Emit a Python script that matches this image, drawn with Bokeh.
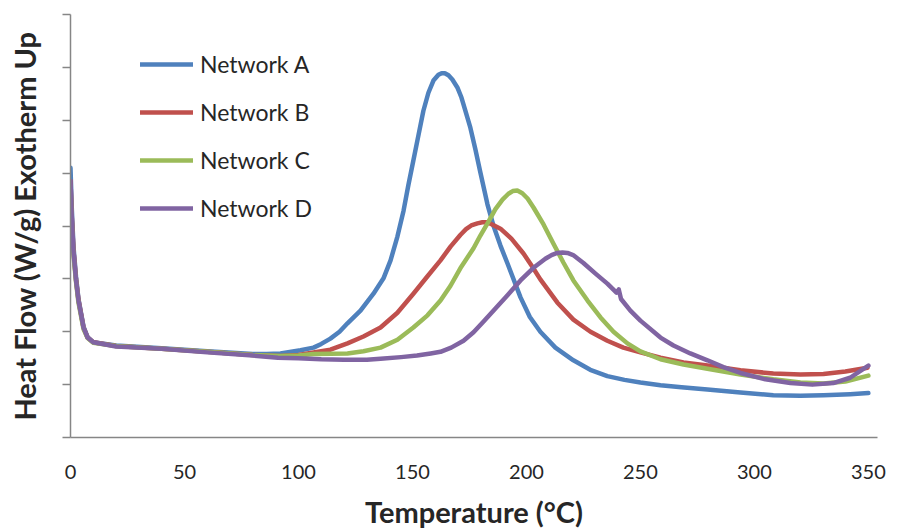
from bokeh.plotting import figure
from bokeh.models import Range1d, FixedTicker, Legend, LegendItem
from bokeh.embed import file_html
from bokeh.resources import INLINE

# ---- data ----
series_names = ["Network A", "Network B", "Network C", "Network D"]
series_colors = ["#4F81BD", "#C0504D", "#9BBB59", "#8064A2"]

a_x = [0, 0.6, 1.3, 2.4, 3.5, 5.7, 7.5, 10, 20, 40, 60, 80, 86, 92.1, 100.9, 106.6, 110, 114, 118, 121.5, 127.2,
       132.9, 137.3, 140.4, 143.4, 146.1, 148.2, 150.4, 152.6, 154.8, 157, 159.2, 161.4, 162.8, 164.2,
       165.8, 167.5, 169.7, 171.5, 173.2, 175.4, 177.6, 179.8, 182.9, 185.5, 188.6, 191.7, 197.4, 201.5,
       206.1, 212.7, 220.6, 228, 235.5, 243, 250, 258.8, 268, 279.4, 293.9, 308.3, 320.2, 330.3, 342, 350]
a_y = [5.10, 4.30, 3.62, 3.05, 2.62, 2.10, 1.90, 1.80, 1.74, 1.69, 1.63, 1.58, 1.58, 1.59, 1.65, 1.70, 1.77, 1.87, 2.00, 2.16, 2.40,
       2.72, 3.01, 3.35, 3.80, 4.29, 4.77, 5.24, 5.71, 6.18, 6.52, 6.75, 6.86, 6.89, 6.89,
       6.85, 6.77, 6.62, 6.43, 6.18, 5.86, 5.45, 5.01, 4.41, 4.01, 3.63, 3.29, 2.65, 2.28,
       2.00, 1.70, 1.46, 1.28, 1.16, 1.09, 1.04, 0.99, 0.95, 0.91, 0.85, 0.80, 0.79, 0.80, 0.82, 0.84]

b_x = [0, 0.6, 1.3, 2.4, 3.5, 5.7, 7.5, 10, 20, 40, 60, 80, 92, 100, 106.6, 114, 121.5, 128.5, 136, 143.4,
       150.4, 156.6, 162.3, 166.7, 171, 173.5, 175.8, 178.5, 180.7, 182.5, 184.5, 188.6, 193.4, 198.7,
       202.6, 206.1, 213.6, 220.6, 228.1, 235.5, 242.5, 250, 258.8, 268.9, 279.4, 293.9, 308.3, 320.2,
       330.3, 339.9, 349.6]
b_y = [4.85, 4.15, 3.55, 3.00, 2.60, 2.08, 1.89, 1.80, 1.73, 1.68, 1.62, 1.56, 1.54, 1.56, 1.61, 1.66, 1.78, 1.91, 2.08, 2.36,
       2.72, 3.05, 3.35, 3.61, 3.83, 3.94, 4.01, 4.05, 4.07, 4.07, 4.04, 3.95, 3.76, 3.48,
       3.23, 2.99, 2.55, 2.23, 2.00, 1.83, 1.70, 1.61, 1.51, 1.42, 1.36, 1.27, 1.21, 1.19,
       1.20, 1.25, 1.32]

c_x = [0, 0.6, 1.3, 2.4, 3.5, 5.7, 7.5, 10, 20, 40, 60, 80, 92, 100, 106.6, 121.5, 128.5, 136, 143.4, 150.4,
       156.6, 162.3, 166.7, 171, 176.8, 179.8, 183.3, 186.4, 189.5, 192.1, 194, 196, 198.2, 200.5, 203.1,
       207.5, 211.8, 216.2, 220.6, 226.8, 232.5, 238.2, 244.3, 250, 258.8, 268.9, 279.4, 293.9, 308.3,
       320.2, 330.3, 339.9, 350]
c_y = [4.75, 4.05, 3.45, 2.95, 2.55, 2.05, 1.88, 1.79, 1.73, 1.68, 1.62, 1.56, 1.54, 1.55, 1.58, 1.59, 1.63, 1.70, 1.85, 2.08,
       2.31, 2.59, 2.87, 3.20, 3.58, 3.82, 4.08, 4.32, 4.50, 4.61, 4.66, 4.67, 4.62, 4.52, 4.35,
       4.03, 3.67, 3.31, 2.97, 2.59, 2.27, 2.00, 1.78, 1.63, 1.48, 1.38, 1.30, 1.19, 1.10,
       1.04, 1.02, 1.06, 1.17]

d_x = [0, 0.6, 1.3, 2.4, 3.5, 5.7, 7.5, 10, 20, 40, 60, 80, 91, 100, 110, 120, 130, 136, 145, 152, 158, 162.3,
       167, 172.4, 176.8, 181.1, 186.4, 191.7, 197.4, 203.1, 208.3, 211, 213.5, 215.8, 218, 220.5, 225,
       230.3, 235.5, 239.5, 240.5, 241.5, 245.6, 250, 258.8, 264.5, 271.9, 279.4, 286.4, 293.9, 304.8,
       315.8, 325.4, 334.6, 342, 350]
d_y = [4.85, 4.12, 3.53, 2.98, 2.59, 2.08, 1.89, 1.80, 1.72, 1.68, 1.61, 1.55, 1.51, 1.50, 1.48, 1.47, 1.47, 1.49, 1.52, 1.55, 1.59, 1.62,
       1.70, 1.83, 1.99, 2.19, 2.44, 2.69, 2.97, 3.21, 3.38, 3.45, 3.49, 3.50, 3.49, 3.45, 3.30,
       3.10, 2.91, 2.74, 2.80, 2.62, 2.40, 2.21, 1.89, 1.74, 1.59, 1.46, 1.33, 1.22, 1.10,
       1.03, 1.00, 1.03, 1.13, 1.36]

x_ticks = [0, 50, 100, 150, 200, 250, 300, 350]
y_ticks = [0, 1, 2, 3, 4, 5, 6, 7, 8]

FONT = "Lato"
TEXT = "#262626"
AXIS = "#868686"

p = figure(frame_width=807, frame_height=423, min_border_left=70, min_border_top=14,
           min_border_right=22, min_border_bottom=94, output_backend="svg",
           toolbar_location=None, x_range=Range1d(0, 354), y_range=Range1d(0, 8))
p.outline_line_color = None
p.xgrid.visible = False
p.ygrid.visible = False
p.background_fill_color = "white"
p.border_fill_color = "white"

renderers = []
for xs, ys, col in zip([a_x, b_x, c_x, d_x], [a_y, b_y, c_y, d_y], series_colors):
    r = p.line(xs, ys, line_color=col, line_width=4.5, line_cap="round", line_join="round")
    renderers.append(r)

# x axis
xa = p.xaxis[0]
xa.ticker = FixedTicker(ticks=x_ticks)
xa.minor_tick_line_color = None
xa.major_tick_in = 0
xa.major_tick_out = 0
xa.axis_line_color = AXIS
xa.axis_line_width = 1.5
xa.major_label_text_font = FONT
xa.major_label_text_font_size = "20px"
xa.major_label_text_color = TEXT
xa.major_label_standoff = 27
xa.axis_label = "Temperature (°C)"
xa.axis_label_text_font = FONT
xa.axis_label_text_font_style = "bold"
xa.axis_label_text_font_size = "29px"
xa.axis_label_text_color = TEXT
xa.axis_label_standoff = 12

# y axis
ya = p.yaxis[0]
ya.ticker = FixedTicker(ticks=y_ticks)
ya.minor_tick_line_color = None
ya.major_tick_in = 0
ya.major_tick_out = 8
ya.major_tick_line_color = AXIS
ya.major_tick_line_width = 1.5
ya.axis_line_color = AXIS
ya.axis_line_width = 1.5
ya.major_label_text_font_size = "0px"
ya.major_label_standoff = 0
ya.axis_label = "Heat Flow (W/g) Exotherm Up"
ya.axis_label_text_font = FONT
ya.axis_label_text_font_style = "bold"
ya.axis_label_text_font_size = "29px"
ya.axis_label_text_color = TEXT
ya.axis_label_standoff = 21

legend = Legend(items=[LegendItem(label=n, renderers=[r]) for n, r in zip(series_names, renderers)],
                location=(70, 215), glyph_width=53, glyph_height=28, label_height=28,
                label_standoff=7, spacing=20, padding=0, margin=0,
                border_line_alpha=0, background_fill_alpha=0,
                label_text_font=FONT, label_text_font_size="23px", label_text_color=TEXT)
p.add_layout(legend)

open("out.html", "w").write(file_html(p, INLINE))
